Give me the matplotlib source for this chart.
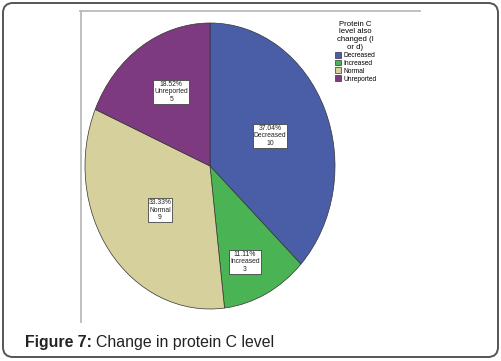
import matplotlib.pyplot as plt
from matplotlib.patches import FancyBboxPatch

categories = ['Decreased', 'Increased', 'Normal', 'Unreported']
counts = [10, 3, 9, 5]
percent_labels = ['37.04%', '11.11%', '33.33%', '18.52%']
colors = ['#4a5ea8', '#4ab454', '#d5d09c', '#7e3a80']
legend_title = 'Protein C\nlevel also\nchanged (I\nor d)'

# label box positions in pie units (SPSS places them freely)
label_pos = [(0.48, 0.21), (0.28, -0.67), (-0.40, -0.31), (-0.31, 0.52)]

W, H = 501, 361
fig = plt.figure(figsize=(W / 100, H / 100), dpi=100)
plt.rcParams['font.family'] = ['Liberation Sans', 'DejaVu Sans']

# background axes in pixel coordinates for the frame decorations
bg = fig.add_axes([0, 0, 1, 1])
bg.set_xlim(0, W)
bg.set_ylim(H, 0)
bg.axis('off')
bg.add_patch(FancyBboxPatch((3, 3), W - 6, H - 7, boxstyle='round,pad=0,rounding_size=10',
                            fc='white', ec='#555555', lw=1.4))
bg.plot([80, 420], [11, 11], color='#bbbbbb', lw=1.3)
bg.plot([81, 81], [11, 322], color='#bbbbbb', lw=1.3)

# caption
t1 = bg.text(25, 342, 'Figure 7:', fontsize=11.4, fontweight='bold', color='#222222',
             va='center', ha='left')
fig.canvas.draw()
bb = t1.get_window_extent()
bg.text(bb.x1 + 4, 342, 'Change in protein C level', fontsize=11.4, color='#222222',
        va='center', ha='left')

# pie axes stretched like the original (ellipse)
left, right, top, bottom = 85, 335, 23, 309
ax = fig.add_axes([left / W, (H - bottom) / H, (right - left) / W, (bottom - top) / H])
wedges, _ = ax.pie(counts, colors=colors, startangle=90, counterclock=False,
                   wedgeprops=dict(edgecolor='#333333', linewidth=0.5))
ax.set_aspect('auto')
ax.set_xlim(-1, 1)
ax.set_ylim(-1, 1)
ax.axis('off')

for (x, y), pct, cat, n in zip(label_pos, percent_labels, categories, counts):
    ax.text(x, y, f'{pct}\n{cat}\n{n}', fontsize=4.9, ha='center', va='center',
            color='#222222', linespacing=1.1,
            bbox=dict(boxstyle='square,pad=0.15', fc='white', ec='#444444', lw=0.6))

leg = fig.legend(wedges, categories, title=legend_title, loc='upper left',
                 bbox_to_anchor=(330 / W, 1 - 16 / H), frameon=False, alignment='center',
                 fontsize=4.8, title_fontsize=5.6, handlelength=1.0, handleheight=1.0,
                 handletextpad=0.3, labelspacing=0.1, borderpad=0.2)
for h in leg.legend_handles:
    h.set_linewidth(0.5)
    h.set_edgecolor('#333333')
leg.get_title().set_linespacing(1.15)
leg.get_title().set_multialignment('center')

fig.savefig('out.png', dpi=100)
